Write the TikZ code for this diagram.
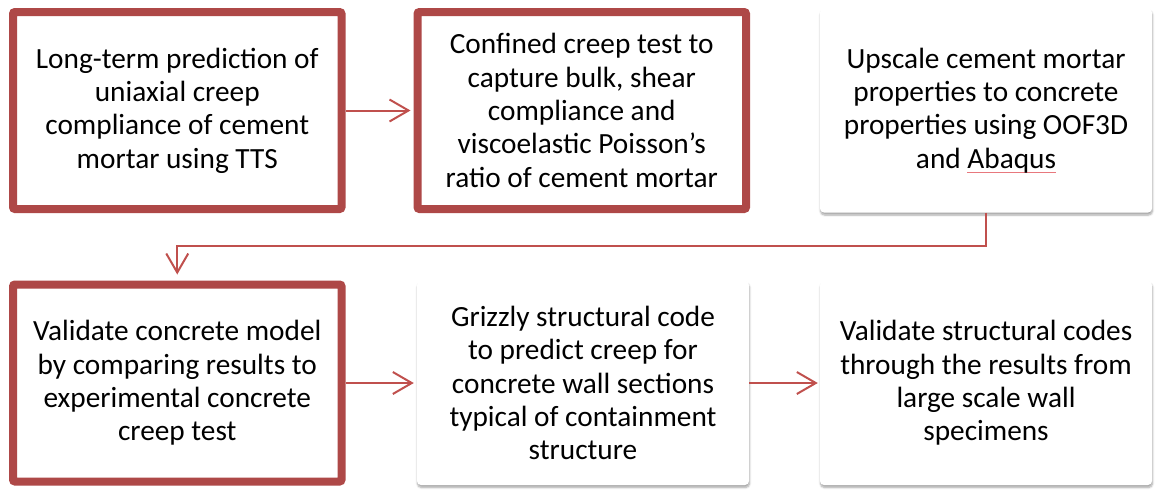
\documentclass[tikz,border=0pt]{standalone}
\usepackage{fontspec}
\setmainfont{Carlito}
\usetikzlibrary{arrows.meta,shadows.blur}
\definecolor{frame}{RGB}{174,72,71}
\definecolor{link}{RGB}{192,80,77}
\definecolor{squiggle}{RGB}{232,120,125}
% word with a light spell-check underline
\newcommand{\flagged}[1]{{\setbox0\hbox{#1}\rlap{\color{squiggle}\rule[-5pt]{\wd0}{1pt}}\box0}}
\begin{document}
\begin{tikzpicture}[x=1pt,y=1pt,
  txt/.style={align=center,font=\fontsize{29.3}{33.3}\selectfont,text=black},
  keybox/.style={txt,draw=frame,line width=8pt,fill=white,rounded corners=2pt,
    minimum width=328.5pt,minimum height=197pt,inner sep=0pt,
    blur shadow={shadow xshift=0pt,shadow yshift=-2pt,shadow blur steps=6,shadow opacity=25}},
  plainbox/.style={txt,fill=white,rounded corners=4pt,
    minimum width=332pt,minimum height=204pt,inner sep=0pt,
    blur shadow={shadow xshift=0.5pt,shadow yshift=-2.5pt,shadow blur steps=6,shadow opacity=35}},
  flow/.style={draw=link,line width=2pt,-{Straight Barb[length=19pt,width=22pt,line width=2pt]}}]
\useasboundingbox (0,0) rectangle (1156,-491);

% top row
\node[keybox] (b1) at (177.25,-110.5) {Long-term prediction of\\uniaxial creep\\compliance of cement\\mortar using TTS};
\node[keybox] (b2) at (581.75,-110.5) {Confined creep test to\\capture bulk, shear\\compliance and\\viscoelastic Poisson’s\\ratio of cement mortar};
\node[plainbox] (b3) at (986,-110.5) {Upscale cement mortar\\properties to concrete\\properties using OOF3D\\and \flagged{Abaqus}};

% bottom row
\node[keybox] (b4) at (177.25,-383) {Validate concrete model\\by comparing results to\\experimental concrete\\creep test};
\node[plainbox] (b5) at (583,-383) {Grizzly structural code\\to predict creep for\\concrete wall sections\\typical of containment\\structure};
\node[plainbox] (b6) at (986,-383) {Validate structural codes\\through the results from\\large scale wall\\specimens};

% connectors
\draw[flow,shorten >=3pt] (b1.east) -- (b2.west);
\draw[flow,shorten >=3pt] (b4.east) -- (b5.west);
\draw[flow,shorten >=2pt] (b5.east) -- (b6.west);
\coordinate (turn) at (0,-246);
\draw[flow,shorten >=6pt] (b3.south) |- (turn -| b4.north) -- (b4.north);
\end{tikzpicture}
\end{document}
